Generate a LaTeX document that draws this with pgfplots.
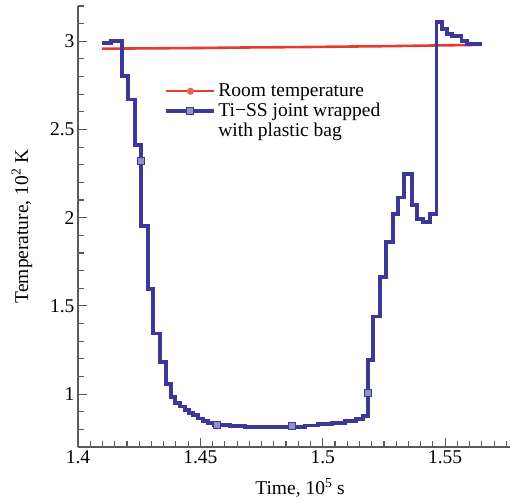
\documentclass[border=0pt]{standalone}
\usepackage{fontspec}
\setmainfont{Liberation Serif}
\usepackage{pgfplots}
\pgfplotsset{compat=1.18}
\definecolor{roomRed}{HTML}{E53B2E}
\definecolor{jointBlue}{HTML}{3B3899}
\definecolor{axisGray}{HTML}{5A5A5A}

\begin{document}
\begin{tikzpicture}
\begin{axis}[
	scale only axis,
	width=432pt, height=441pt,
	xmin=1.4, xmax=1.5765,
	ymin=0.7, ymax=3.2,
	axis x line*=bottom, axis y line*=left,
	axis line style={draw=axisGray,line width=1.3pt},
	xtick={1.4,1.45,1.5,1.55},
	minor xtick={1.405,1.41,...,1.576},
	ytick={1,1.5,2,2.5,3},
	minor ytick={0.8,0.9,...,3.15},
	tick align=inside,
	major tick length=9pt, minor tick length=6pt,
	every tick/.style={draw=axisGray,line width=1.1pt},
	/pgf/number format/assume math mode=true,
	tick label style={font=\fontsize{19.5}{22}\selectfont},
	label style={font=\fontsize{19.5}{22}\selectfont},
	xlabel={Time, 10\textsuperscript{5} s},
	ylabel={Temperature, 10\textsuperscript{2} K},
	xlabel style={at={(axis description cs:0.514,-0.093)},anchor=center},
	ylabel style={at={(axis description cs:-0.13,0.5)},anchor=center},
	legend style={draw=none,fill=none,at={(0.2,0.828)},anchor=north west,
		font=\fontsize{19.5}{22}\selectfont,row sep=1pt,inner sep=0pt,
		cells={anchor=west}},
	legend cell align=left,
]
% room temperature
\addplot[roomRed,line width=2.6pt,
	legend image code/.code={
		\draw[roomRed,line width=2.6pt] (0pt,0pt) -- (48pt,0pt);
		\fill[roomRed!80!white] (24pt,0pt) circle (2.2pt);}]
	coordinates {
		(1.4098,2.958) (1.43,2.960) (1.45,2.962) (1.47,2.965) (1.49,2.967)
		(1.51,2.970) (1.53,2.973) (1.55,2.977) (1.5649,2.980)
	};
\addlegendentry{Room temperature}
% joint wrapped in plastic bag
\addplot[jointBlue,line width=3.8pt,const plot,
	legend image code/.code={
		\draw[jointBlue,line width=3.8pt] (0pt,0pt) -- (48pt,0pt);
		\draw[jointBlue,line width=1pt,fill=jointBlue!55!white]
			(20.5pt,-3.5pt) rectangle (27.5pt,3.5pt);}]
	coordinates {
		(1.4098,2.99) (1.4135,3.0) (1.4180,2.805) (1.4204,2.67) (1.4233,2.41)
		(1.4257,1.954) (1.4286,1.594) (1.4306,1.343) (1.4335,1.183) (1.4360,1.057)
		(1.4380,0.983) (1.4396,0.95) (1.4416,0.93) (1.4437,0.91) (1.4453,0.895)
		(1.4469,0.88) (1.4490,0.862) (1.4510,0.848) (1.4531,0.835) (1.4555,0.825)
		(1.4620,0.82) (1.4682,0.812) (1.4865,0.815) (1.4927,0.822) (1.4980,0.83)
		(1.5037,0.838) (1.5090,0.848) (1.5135,0.86) (1.5163,0.877) (1.5184,1.194)
		(1.5204,1.44) (1.5233,1.663) (1.5257,1.863) (1.5286,2.02) (1.5306,2.114)
		(1.5331,2.246) (1.5363,2.07) (1.5384,1.994) (1.5408,1.975) (1.5437,2.02)
		(1.5465,3.109) (1.5486,3.07) (1.5506,3.04) (1.5527,3.029) (1.5567,3.0)
		(1.5588,2.983) (1.5649,2.983)
	};
\addlegendentry{Ti−SS joint wrapped}
\addlegendimage{empty legend}
\addlegendentry{with plastic bag}
\addplot[only marks,mark=square*,mark size=3.5pt,forget plot,
	mark options={draw=jointBlue,line width=1pt,fill=jointBlue!55!white}]
	coordinates {(1.4257,2.32) (1.4567,0.823) (1.4873,0.817) (1.5184,1.006)};
\end{axis}
\pgfresetboundingbox
\path (-78pt,-54pt) rectangle (433pt,447pt);
\end{tikzpicture}
\end{document}
